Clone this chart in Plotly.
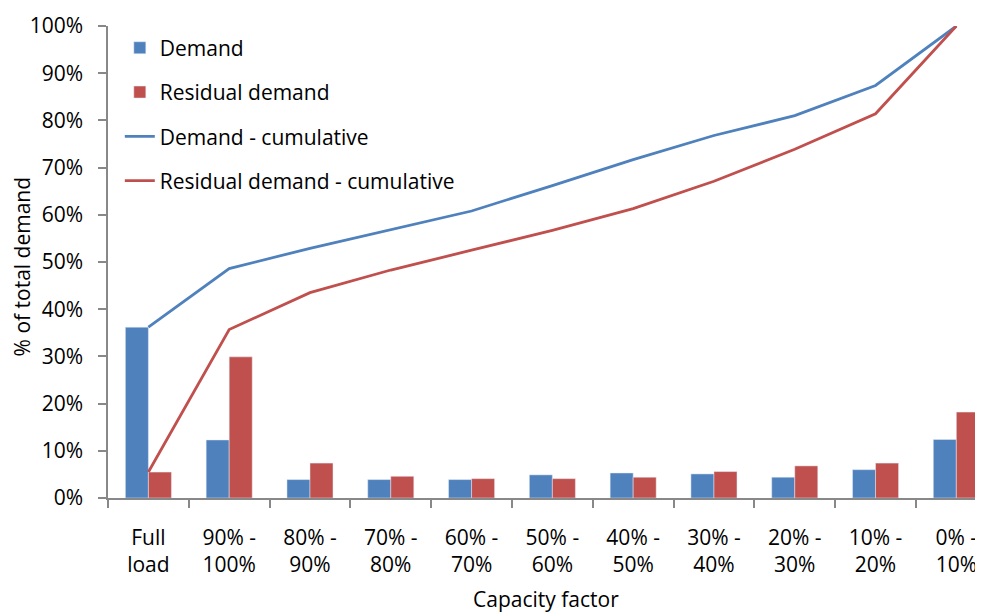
import plotly.graph_objects as go

categories = ["Full<br>load", "90% -<br>100%", "80% -<br>90%", "70% -<br>80%", "60% -<br>70%",
              "50% -<br>60%", "40% -<br>50%", "30% -<br>40%", "20% -<br>30%", "10% -<br>20%", "0% -<br>10%"]
demand = [0.362, 0.123, 0.039, 0.039, 0.039, 0.049, 0.053, 0.051, 0.044, 0.060, 0.124]
residual = [0.055, 0.299, 0.074, 0.046, 0.041, 0.041, 0.044, 0.056, 0.068, 0.074, 0.182]
demand_cum = [0.362, 0.486, 0.529, 0.569, 0.608, 0.662, 0.717, 0.768, 0.810, 0.874, 1.000]
residual_cum = [0.055, 0.357, 0.435, 0.483, 0.525, 0.567, 0.613, 0.671, 0.739, 0.814, 1.000]
y_ticks = [0, 0.1, 0.2, 0.3, 0.4, 0.5, 0.6, 0.7, 0.8, 0.9, 1.0]

BLUE = "#4F81BD"
RED = "#C0504D"
FONT = "Open Sans"

fig = go.Figure()
fig.add_trace(go.Bar(x=categories, y=demand, name="Demand", marker=dict(color=BLUE),
                     legendgroup="a"))
fig.add_trace(go.Bar(x=categories, y=residual, name="Residual demand", marker=dict(color=RED),
                     legendgroup="b"))
fig.add_trace(go.Scatter(x=categories, y=demand_cum, name="Demand - cumulative", mode="lines",
                         line=dict(color=BLUE, width=2.8), legendgroup="c", cliponaxis=False))
fig.add_trace(go.Scatter(x=categories, y=residual_cum, name="Residual demand - cumulative", mode="lines",
                         line=dict(color=RED, width=2.8), legendgroup="d", cliponaxis=False))

fig.update_layout(
    width=975, height=606,
    margin=dict(l=100, r=0, t=18, b=116),
    plot_bgcolor="white", paper_bgcolor="white",
    font=dict(family=FONT, size=21, color="#000000"),
    barmode="group", bargap=0.43, bargroupgap=0,
    legend=dict(x=0.0135, y=0.9966, xanchor="left", yanchor="top",
                traceorder="grouped", tracegroupgap=14,
                font=dict(size=21), bgcolor="rgba(0,0,0,0)"),
    showlegend=True,
    annotations=[
        dict(text="% of total demand", textangle=-90, xref="paper", yref="paper",
             x=-0.0983, y=0.4907, xanchor="center", yanchor="middle", showarrow=False,
             font=dict(size=21)),
        dict(text="Capacity factor", xref="paper", yref="paper",
             x=0.5, y=-0.2133, xanchor="center", yanchor="middle", showarrow=False,
             font=dict(size=21)),
    ],
)
fig.update_xaxes(
    range=[-0.5, 10.33], showline=True, linecolor="#888888", linewidth=1.5,
    ticks="outside", tickson="boundaries", ticklen=8, tickcolor="#888888", tickwidth=1.5,
    showgrid=False, ticklabelstandoff=20, automargin=False,
)
fig.update_yaxes(
    range=[0, 1], tickvals=y_ticks, tickformat=".0%", showline=True, linecolor="#888888",
    linewidth=1.5, ticks="outside", ticklen=8, tickcolor="#888888", tickwidth=1.5,
    showgrid=False, zeroline=False, ticklabelstandoff=11, automargin=False,
)

fig.write_html("out.html")
